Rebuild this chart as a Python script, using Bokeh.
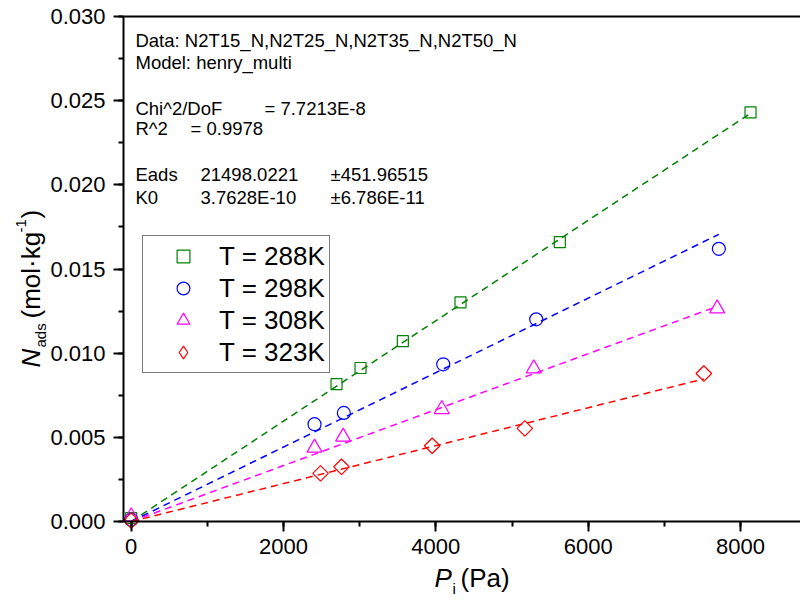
import math
from bokeh.plotting import figure
from bokeh.models import (Range1d, SingleIntervalTicker, FixedTicker, PrintfTickFormatter,
                          LinearAxis, Label, Legend, LegendItem)
from bokeh.embed import file_html
from bokeh.resources import INLINE

# ---- data ----
P_288 = [0, 2696, 3011, 3567, 4324, 5628, 8132]
N_288 = [0.0002, 0.00816, 0.00912, 0.01071, 0.01302, 0.01660, 0.02431]
P_298 = [0, 2407, 2792, 4097, 5318, 7716]
N_298 = [0.0001, 0.00578, 0.00645, 0.00934, 0.01201, 0.01620]
P_308 = [0, 2407, 2783, 4078, 5286, 7694]
N_308 = [0.0003, 0.00438, 0.00503, 0.00667, 0.00909, 0.01265]
P_323 = [0, 2486, 2761, 3952, 5168, 7519]
N_323 = [0.00005, 0.00286, 0.00325, 0.00450, 0.00553, 0.00879]

# henry_multi fit lines (start, end)
FIT_P_288 = [0, 8132]
FIT_N_288 = [0.0, 0.02425]
FIT_P_298 = [0, 7716]
FIT_N_298 = [0.0, 0.01706]
FIT_P_308 = [0, 7694]
FIT_N_308 = [0.0, 0.01278]
FIT_P_323 = [0, 7519]
FIT_N_323 = [0.0, 0.00847]

labels = ["T = 288K", "T = 298K", "T = 308K", "T = 323K"]
colors = ["#008000", "#0000FF", "#FF00FF", "#FF0000"]

# axis box extents (data units)
X_AXIS = (-101, 8788)
Y_AXIS = (0.0, 0.030)

FONT = "Liberation Sans"
W, H = 800, 600

p = figure(width=W, height=H, x_range=Range1d(-1716.1, 8788), y_range=Range1d(-0.004693, 0.030951),
           output_backend="svg", toolbar_location=None,
           x_axis_location=None, y_axis_location=None,
           min_border_left=0, min_border_right=0, min_border_top=0, min_border_bottom=0)
p.grid.visible = False
p.outline_line_color = None

def style_axis(ax, fs="22px"):
    ax.axis_line_width = 2
    ax.axis_line_color = "black"
    ax.major_tick_out = 10
    ax.major_tick_in = 0
    ax.minor_tick_out = 5
    ax.minor_tick_in = 0
    ax.major_tick_line_width = 2
    ax.minor_tick_line_width = 2
    ax.major_tick_line_color = "black"
    ax.minor_tick_line_color = "black"
    ax.major_label_text_font = FONT
    ax.major_label_text_font_size = fs
    ax.major_label_text_color = "black"

xax = LinearAxis(fixed_location=Y_AXIS[0], bounds=X_AXIS,
                 ticker=SingleIntervalTicker(interval=2000, num_minor_ticks=2),
                 formatter=PrintfTickFormatter(format="%d"), major_label_standoff=7)
style_axis(xax)
p.add_layout(xax, "below")

yax = LinearAxis(fixed_location=X_AXIS[0], bounds=Y_AXIS,
                 ticker=SingleIntervalTicker(interval=0.005, num_minor_ticks=2),
                 formatter=PrintfTickFormatter(format="%.3f"), major_label_standoff=8)
style_axis(yax)
p.add_layout(yax, "left")

top = LinearAxis(fixed_location=Y_AXIS[1], bounds=X_AXIS, ticker=FixedTicker(ticks=[]),
                 major_tick_out=0, minor_tick_out=0, major_tick_in=0, minor_tick_in=0,
                 axis_line_width=2, axis_line_color="black")
p.add_layout(top, "above")

series = [(P_288, N_288, FIT_P_288, FIT_N_288), (P_298, N_298, FIT_P_298, FIT_N_298),
          (P_308, N_308, FIT_P_308, FIT_N_308), (P_323, N_323, FIT_P_323, FIT_N_323)]
plot_markers = [("square", 11, 0.0), ("circle", 13, 0.0), ("triangle", 15, 0.0), ("square", 11, math.pi / 4)]
legend_markers = ["square", "circle", "triangle", "diamond"]
items = []
for (px, ny, fx, fy), lab_, c, (m, s, a), lm in zip(series, labels, colors, plot_markers, legend_markers):
    p.line(fx, fy, line_color=c, line_width=1.5, line_dash="7 5")
    r = p.scatter(px, ny, marker=m, size=s, angle=a, fill_color=None, line_color=c, line_width=1.2)
    if lm == m and a == 0:
        items.append(LegendItem(label=lab_, renderers=[r]))
    else:
        # legend-only glyph (zero size in the plot; the legend sizes its own swatch)
        sw = p.scatter(px, ny, marker=lm, size=0, fill_color=None, line_color=c, line_width=1.2)
        items.append(LegendItem(label=lab_, renderers=[sw]))

legend = Legend(items=items, location=(142, 227), padding=4, spacing=0, margin=0,
                glyph_height=32, glyph_width=72, label_height=32, label_standoff=0,
                label_text_font=FONT, label_text_font_size="26px", label_text_color="black",
                border_line_color="black", border_line_width=1, background_fill_alpha=1)
p.add_layout(legend, "center")

def lab(x, y, t, size="18.5px", style="normal", align="left", baseline="middle",
        angle=0, units="data"):
    p.add_layout(Label(x=x, y=y, text=t, text_font=FONT, text_font_size=size,
                       text_font_style=style, text_align=align, text_baseline=baseline,
                       angle=angle, text_color="black", x_units=units, y_units=units))

# fit report text
lab(56, 0.02857, "Data: N2T15_N,N2T25_N,N2T35_N,N2T50_N")
lab(56, 0.02729, "Model: henry_multi")
lab(56, 0.02455, "Chi^2/DoF")
lab(1750, 0.02455, "= 7.7213E-8")
lab(56, 0.02333, "R^2")
lab(779, 0.02333, "=  0.9978")
lab(56, 0.02060, "Eads")
lab(910, 0.02060, "21498.0221")
lab(2617, 0.02060, "\u00b1451.96515")
lab(56, 0.01927, "K0")
lab(910, 0.01927, "3.7628E-10")
lab(2617, 0.01927, "\u00b16.786E-11")

# x axis title: P_i (Pa)   (screen px from the canvas' bottom-left; text centred vertically)
lab(434, 23, "P", size="26px", style="italic", units="screen")
lab(452, 12, "i", size="15px", units="screen")
lab(460, 23, "(Pa)", size="26px", units="screen")

# y axis title: N_ads (mol·kg^-1)
R = math.pi / 2
lab(30, 233, "N", size="26px", style="italic", angle=R, units="screen")
lab(40, 253, "ads", size="15px", angle=R, units="screen")
lab(30, 282, "(mol\u00b7kg", size="26px", angle=R, units="screen")
lab(20, 368, "-1", size="15px", angle=R, units="screen")
lab(30, 382, ")", size="26px", angle=R, units="screen")

open("out.html", "w").write(file_html(p, INLINE))
